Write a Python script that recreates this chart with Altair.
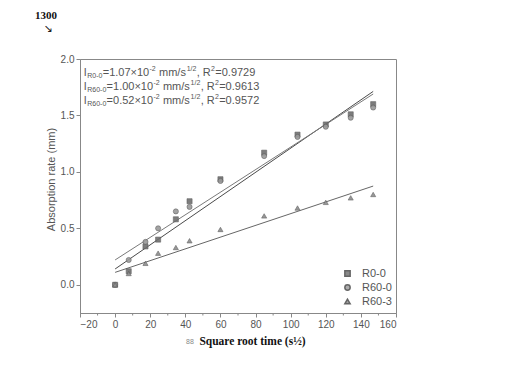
import altair as alt
import pandas as pd

# ---------------- data ----------------
series = ["R0-0", "R60-0", "R60-3"]
sqrt_t = [0, 7.75, 17.3, 24.5, 34.6, 42.4, 60.0, 84.9, 103.9, 120.0, 134.2, 147.0]
r0_0 = [0.00, 0.12, 0.34, 0.40, 0.58, 0.74, 0.935, 1.17, 1.33, 1.42, 1.51, 1.60]
r60_0 = [0.00, 0.22, 0.38, 0.50, 0.65, 0.69, 0.92, 1.14, 1.31, 1.40, 1.48, 1.57]
r60_3 = [0.00, 0.10, 0.19, 0.28, 0.33, 0.39, 0.49, 0.61, 0.68, 0.73, 0.77, 0.80]
slopes = [0.0107, 0.0100, 0.0052]
intercepts = [0.14, 0.22, 0.11]
fit_x = [0, 147]

coef_txt = ["1.07", "1.00", "0.52"]
r2_txt = ["0.9729", "0.9613", "0.9572"]
sub_txt = ["R0-0", "R60-0", "R60-0"]

x_ticks = [-20, 0, 20, 40, 60, 80, 100, 120, 140, 160]
x_minor = [-10, 10, 30, 50, 70, 90, 110, 130, 150]
y_ticks = [0.0, 0.5, 1.0, 1.5, 2.0]

# ---------------- tables ----------------
rows = []
for s, ys in zip(series, [r0_0, r60_0, r60_3]):
    for x, y in zip(sqrt_t, ys):
        rows.append({"series": s, "x": x, "y": y})
pts = pd.DataFrame(rows)

fit_rows = []
for s, m, b in zip(series, slopes, intercepts):
    for x in fit_x:
        fit_rows.append({"series": s, "x": x, "y": b + m * x})
fits = pd.DataFrame(fit_rows)

# annotation text segments (pixel layout within plot area)
W = {'l': .222, 'R': .722, '-': .333, '=': .584, '.': .278, '×': .584, ' ': .278,
     'm': .833, '/': .278, 's': .5, ',': .278}
def tw(t, size):
    return sum(W.get(c, .556) for c in t) * size

BIG, SMALL = 11, 7
seg_rows = []
for i in range(3):
    y0 = 14 + i * 14
    x = 4.0
    parts = [("l", BIG, 0, 0.5), (sub_txt[i], SMALL, 3, 0), ("=" + coef_txt[i] + "×10", BIG, 0, 0),
             ("-2", SMALL, -4, 3), ("mm/s", BIG, 0, 0.5), ("1/2", SMALL, -4, 0), (", R", BIG, 0, 0),
             ("2", SMALL, -4, 0), ("=" + r2_txt[i], BIG, 0, 0)]
    for t, sz, dy, gap in parts:
        seg_rows.append({"t": t, "px": x, "py": y0 + dy, "sz": sz})
        x += tw(t, sz) + 0.3 + gap
segs = pd.DataFrame(seg_rows)

# ---------------- chart ----------------
xs = alt.Scale(domain=[-20, 160], nice=False, zero=False)
ys = alt.Scale(domain=[-0.25, 2.0], nice=False, zero=False)

shape_scale = alt.Scale(domain=series, range=["square", "circle", "triangle-up"])
color_scale = alt.Scale(domain=series, range=["#6f6f6f", "#9a9a9a", "#8c8c8c"])

x_axis = alt.Axis(values=x_ticks, labelOverlap=False, title="Square root time (s½)",
                  titleFont="Liberation Serif", titleFontWeight="bold", titleFontSize=11.5,
                  titleColor="#111", titlePadding=6, titleX=172, titleAlign="center")

lines = alt.Chart(fits).mark_line(strokeWidth=1).encode(
    x=alt.X("x:Q", scale=xs, axis=x_axis),
    y=alt.Y("y:Q", scale=ys,
            axis=alt.Axis(values=y_ticks, format=".1f", title="Absorption rate (mm)",
                          titleFont="Liberation Sans", titleFontWeight="normal", titleFontSize=11,
                          titleColor="#555", titlePadding=4, titleY=120)),
    detail="series:N",
    color=alt.Color("series:N", scale=alt.Scale(domain=series, range=["#4a4a4a", "#7a7a7a", "#666666"]),
                    legend=None),
)

points = alt.Chart(pts).mark_point(filled=True, size=26, opacity=0.9, stroke="#555", strokeWidth=0.6).encode(
    x=alt.X("x:Q", axis=x_axis), y="y:Q",
    shape=alt.Shape("series:N", scale=shape_scale,
                    legend=alt.Legend(title=None, orient="none", legendX=262, legendY=209,
                                      labelFont="Liberation Sans", labelFontSize=11, labelColor="#555",
                                      symbolSize=28, rowPadding=1, labelOffset=9)),
    fill=alt.Fill("series:N", scale=color_scale, legend=None),
)

minor = alt.Chart(pd.DataFrame({"x": x_minor})).mark_rule(color="#888", strokeWidth=1).encode(
    x=alt.X("x:Q", axis=x_axis), y=alt.value(254), y2=alt.value(256.5)
)

small = alt.Chart(segs[segs.sz == SMALL]).mark_text(
    align="left", baseline="middle", font="Liberation Sans", fontSize=SMALL, color="#555"
).encode(x=alt.X("px:Q", scale=None), y=alt.Y("py:Q", scale=None), text="t:N")
big = alt.Chart(segs[segs.sz == BIG]).mark_text(
    align="left", baseline="middle", font="Liberation Sans", fontSize=BIG, color="#555"
).encode(x=alt.X("px:Q", scale=None), y=alt.Y("py:Q", scale=None), text="t:N")

fig_label = alt.Chart(pd.DataFrame({"t": ["1300"]})).mark_text(
    font="Liberation Serif", fontWeight="bold", fontSize=11, color="#111", align="left"
).encode(x=alt.value(-45), y=alt.value(-43), text="t:N")
arrow = alt.Chart(pd.DataFrame({"t": ["↘"]})).mark_text(
    font="DejaVu Sans", fontSize=11, color="#222"
).encode(x=alt.value(-32), y=alt.value(-30), text="t:N")
marker = alt.Chart(pd.DataFrame({"t": ["88"]})).mark_text(
    font="Liberation Sans", fontSize=7, color="#888"
).encode(x=alt.value(110), y=alt.value(283), text="t:N")

chart = alt.layer(lines, points, minor, big, small, fig_label, arrow, marker).resolve_scale(
    color="independent", fill="independent", shape="independent"
).properties(
    width=316, height=254,
    autosize=alt.AutoSizeParams(type="none"),
    padding={"left": 72, "top": 51, "right": 100, "bottom": 70},
).configure_view(stroke="#888", strokeWidth=1).configure_axis(
    domainColor="#888", tickColor="#888", tickSize=4, labelColor="#555",
    labelFont="Liberation Sans", labelFontSize=10, grid=False, labelPadding=2,
    labelOverlap=False,
)

chart.save("out.html", embed_options={"renderer": "svg", "actions": False})
